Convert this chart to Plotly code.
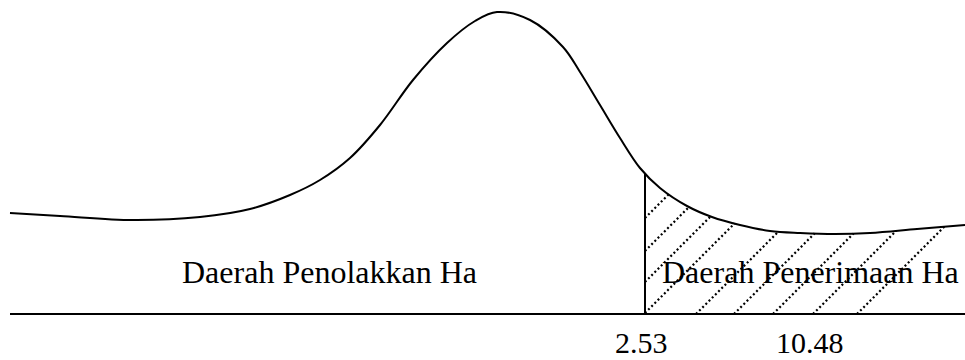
import numpy as np
import plotly.graph_objects as go

# Density-style curve, horizontal position vs height above the baseline
curve_x = [10, 60, 133, 200, 250, 290, 320, 350, 380, 413, 447, 475, 497,
           530, 563, 580, 600, 620, 640, 660, 687, 712, 740, 770, 800, 835,
           870, 917, 965]
curve_y = [101, 98, 94, 97, 105, 119, 134, 156, 189, 234, 271, 293, 302,
           294, 267, 242, 209, 176, 146, 126, 108, 97, 89, 83, 81, 80,
           81, 85, 89]

# Critical value split and axis labels under the baseline
critical_x = 645
tick_labels = ["2.53", "10.48"]
tick_x = [641, 810]

region_labels = ["Daerah Penolakkan Ha", "Daerah Penerimaan Ha"]
region_x = [329, 810]
region_y = [42, 42]

# Diagonal hatch lines (45°) in the acceptance region, given by intercept
hatch_offsets = [863, 896, 927, 958, 1010, 1048, 1087, 1127, 1171]
baseline_px = 314

baseline_x = [10, 965]

FONT = "Liberation Serif"

fig = go.Figure()

# hatching: each line rises at 45° from the vertical line / baseline to the curve
cx = np.array(curve_x, dtype=float)
cy = np.array(curve_y, dtype=float)
for c in hatch_offsets:
    x0 = max(critical_x, c - baseline_px)
    y0 = baseline_px - c + x0
    xs = np.linspace(x0, 965, 2000)
    ys = baseline_px - c + xs
    cur = np.interp(xs, cx, cy)
    outside = ys > cur
    idx = int(np.argmax(outside)) if outside.any() else len(xs) - 1
    x1, y1 = xs[idx], ys[idx]
    fig.add_trace(go.Scatter(
        x=[x0, x1], y=[y0, y1], mode="lines",
        line=dict(color="black", width=2.2, dash="2px,2.5px"),
        hoverinfo="skip", showlegend=False))

# curve
fig.add_trace(go.Scatter(
    x=curve_x, y=curve_y, mode="lines",
    line=dict(color="black", width=2, shape="spline", smoothing=1.0),
    hoverinfo="skip", showlegend=False))

# vertical line at the critical value
crit_h = float(np.interp(critical_x, cx, cy))
fig.add_trace(go.Scatter(
    x=[critical_x, critical_x], y=[0, crit_h], mode="lines",
    line=dict(color="black", width=2),
    hoverinfo="skip", showlegend=False))

# baseline
fig.add_trace(go.Scatter(
    x=baseline_x, y=[0, 0], mode="lines",
    line=dict(color="black", width=2),
    hoverinfo="skip", showlegend=False))

for txt, x, y in zip(region_labels, region_x, region_y):
    fig.add_annotation(x=x, y=y, text=txt, showarrow=False,
                       font=dict(family=FONT, size=32, color="black"),
                       xanchor="center", yanchor="middle")

for txt, x in zip(tick_labels, tick_x):
    fig.add_annotation(x=x, y=-46, text=txt, showarrow=False, borderpad=0,
                       font=dict(family=FONT, size=30, color="black"),
                       xanchor="center", yanchor="bottom")

fig.update_layout(
    width=965, height=360,
    margin=dict(l=0, r=0, t=0, b=0),
    paper_bgcolor="white", plot_bgcolor="white",
    xaxis=dict(range=[0, 965], visible=False, fixedrange=True),
    yaxis=dict(range=[-46, 314], visible=False, fixedrange=True),
)

fig.write_html("out.html")
